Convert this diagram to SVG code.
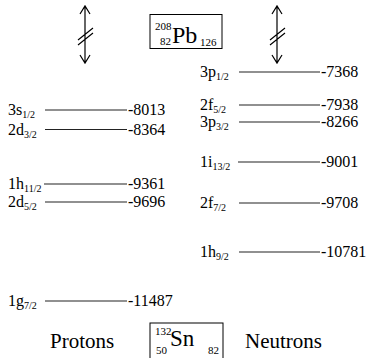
<svg xmlns="http://www.w3.org/2000/svg" width="371" height="358" viewBox="0 0 371 358" font-family="Liberation Serif">
<style>
text{font-family:"Liberation Serif",serif}
.t{font-size:16px}
.s{font-size:10px}
.sm{font-size:11px}
.big{font-size:21px}
.lv{stroke:#222;stroke-width:1.2}
.ar{stroke:#000;stroke-width:1.2;fill:none}
.box{fill:none;stroke:#000;stroke-width:1}
</style>
<rect width="371" height="358" fill="#fff"/>
<g id="connectors">
<path class="ar" d="M85,6V63M80,14L85,6L90,14M80,55L85,63L90,55M78,40L93,28M78,45L93,33"/>
<path class="ar" d="M277,6V63M272,14L277,6L282,14M272,55L277,63L282,55M270,40L285,28M270,45L285,33"/>
</g>
<g id="pb208">
<rect class="box" x="150" y="14.5" width="72" height="34"/>
<text class="sm" x="155" y="30" font-family="Liberation Serif">208</text>
<text class="sm" x="160" y="45" font-family="Liberation Serif">82</text>
<text x="172" y="43" font-family="Liberation Serif" font-size="24">Pb</text>
<text class="sm" x="200" y="46" font-family="Liberation Serif">126</text>
</g>
<g id="sn132">
<rect class="box" x="150" y="323" width="73" height="40"/>
<text class="sm" x="155" y="335" font-family="Liberation Serif">132</text>
<text class="sm" x="156" y="354" font-family="Liberation Serif">50</text>
<text x="170" y="346" font-family="Liberation Serif" font-size="23">Sn</text>
<text class="sm" x="208" y="354" font-family="Liberation Serif">82</text>
</g>
<g id="protons"><text class="big" x="50" y="348" font-family="Liberation Serif">Protons</text></g>
<g id="neutrons"><text class="big" x="245" y="348" font-family="Liberation Serif">Neutrons</text></g>
<g id="p-3s12"><text class="t" x="8" y="115" font-family="Liberation Serif">3s<tspan class="s" dy="3">1/2</tspan></text><line class="lv" x1="45" y1="110" x2="127" y2="110"/><text class="t" x="128" y="115" font-family="Liberation Serif">-8013</text></g>
<g id="p-2d32"><text class="t" x="8" y="134.5" font-family="Liberation Serif">2d<tspan class="s" dy="3">3/2</tspan></text><line class="lv" x1="45" y1="129.5" x2="127" y2="129.5"/><text class="t" x="128" y="134.5" font-family="Liberation Serif">-8364</text></g>
<g id="p-1h112"><text class="t" x="8" y="189" font-family="Liberation Serif">1h<tspan class="s" dy="3">11/2</tspan></text><line class="lv" x1="44" y1="184" x2="127" y2="184"/><text class="t" x="128" y="189" font-family="Liberation Serif">-9361</text></g>
<g id="p-2d52"><text class="t" x="8" y="207" font-family="Liberation Serif">2d<tspan class="s" dy="3">5/2</tspan></text><line class="lv" x1="45" y1="202" x2="127" y2="202"/><text class="t" x="128" y="207" font-family="Liberation Serif">-9696</text></g>
<g id="p-1g72"><text class="t" x="8" y="306" font-family="Liberation Serif">1g<tspan class="s" dy="3">7/2</tspan></text><line class="lv" x1="45" y1="301" x2="127" y2="301"/><text class="t" x="128" y="306" font-family="Liberation Serif">-11487</text></g>
<g id="n-3p12"><text class="t" x="200" y="77" font-family="Liberation Serif">3p<tspan class="s" dy="3">1/2</tspan></text><line class="lv" x1="239" y1="72" x2="320" y2="72"/><text class="t" x="321" y="77" font-family="Liberation Serif">-7368</text></g>
<g id="n-2f52"><text class="t" x="200" y="110" font-family="Liberation Serif">2f<tspan class="s" dy="3">5/2</tspan></text><line class="lv" x1="239" y1="105" x2="320" y2="105"/><text class="t" x="321" y="110" font-family="Liberation Serif">-7938</text></g>
<g id="n-3p32"><text class="t" x="200" y="127" font-family="Liberation Serif">3p<tspan class="s" dy="3">3/2</tspan></text><line class="lv" x1="239" y1="122" x2="320" y2="122"/><text class="t" x="321" y="127" font-family="Liberation Serif">-8266</text></g>
<g id="n-1i132"><text class="t" x="200" y="167" font-family="Liberation Serif">1i<tspan class="s" dy="3">13/2</tspan></text><line class="lv" x1="238" y1="162" x2="320" y2="162"/><text class="t" x="321" y="167" font-family="Liberation Serif">-9001</text></g>
<g id="n-2f72"><text class="t" x="200" y="208" font-family="Liberation Serif">2f<tspan class="s" dy="3">7/2</tspan></text><line class="lv" x1="239" y1="203" x2="320" y2="203"/><text class="t" x="321" y="208" font-family="Liberation Serif">-9708</text></g>
<g id="n-1h92"><text class="t" x="200" y="257" font-family="Liberation Serif">1h<tspan class="s" dy="3">9/2</tspan></text><line class="lv" x1="239" y1="252" x2="320" y2="252"/><text class="t" x="321" y="257" font-family="Liberation Serif">-10781</text></g>
</svg>
